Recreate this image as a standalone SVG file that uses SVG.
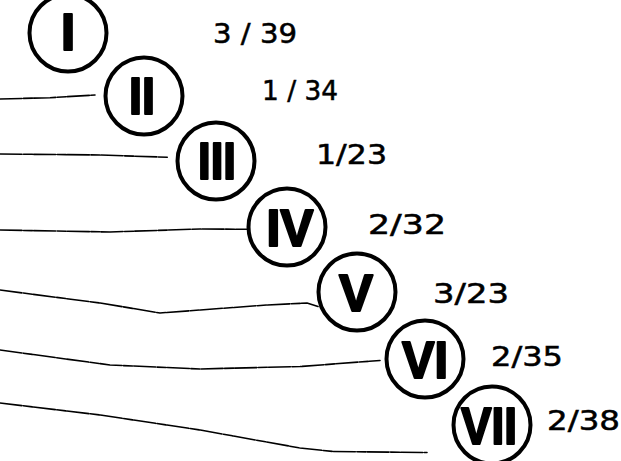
<svg xmlns="http://www.w3.org/2000/svg" width="621" height="461" viewBox="0 0 621 461">
<style>
.ring{fill:none;stroke:#000;stroke-width:4}
.num{font-family:"Liberation Sans",Arial,sans-serif;font-weight:bold;font-size:51px;fill:#000;stroke:#000;stroke-width:2.2;stroke-linejoin:round;text-anchor:middle}
.lbl{font-family:"DejaVu Sans","Liberation Sans",sans-serif;font-size:26px;fill:#000;stroke:#000;stroke-width:0.5}
.wire{fill:none;stroke:#000;stroke-width:1.6;stroke-linecap:round;stroke-linejoin:round;stroke-dasharray:22 1.5 9 1.2}
</style>
<rect width="621" height="461" fill="#fff"/>
<g id="connectors">
<path class="wire" d="M0,99 L50,97.7 L95,95"/>
<path class="wire" d="M0,154 L100,155 L168,157.3"/>
<path class="wire" d="M0,230 L110,232 L200,229 L248,229.3"/>
<path class="wire" d="M0,290 L100,303 L160,313 L213,309 L267,305 L307,303 L318,306.5"/>
<path class="wire" d="M0,350 L110,365 L200,369 L300,366.5 L380,360.5"/>
<path class="wire" d="M0,403 L100,415 L200,430 L300,448 L333,451.5 L427,452.5"/>
</g>
<g id="node-I">
<circle class="ring" cx="68" cy="33" r="38.5"/>
<text class="num" x="68" y="50">I</text>
<text class="lbl" x="213" y="42.5" textLength="84" lengthAdjust="spacingAndGlyphs">3 / 39</text>
</g>
<g id="node-II">
<circle class="ring" cx="144" cy="96" r="38.5"/>
<text class="num" x="142" y="114" textLength="26" lengthAdjust="spacingAndGlyphs">II</text>
<text class="lbl" x="262" y="99.5" textLength="76" lengthAdjust="spacingAndGlyphs">1 / 34</text>
</g>
<g id="node-III">
<circle class="ring" cx="216" cy="161" r="38.5"/>
<text class="num" x="217" y="179" textLength="38" lengthAdjust="spacingAndGlyphs">III</text>
<text class="lbl" x="316" y="163.5" textLength="71" lengthAdjust="spacingAndGlyphs">1/23</text>
</g>
<g id="node-IV">
<circle class="ring" cx="287" cy="227" r="38.5"/>
<text class="num" x="290" y="246" textLength="47" lengthAdjust="spacingAndGlyphs">IV</text>
<text class="lbl" x="368" y="233.5" textLength="78" lengthAdjust="spacingAndGlyphs">2/32</text>
</g>
<g id="node-V">
<circle class="ring" cx="357" cy="292" r="38.5"/>
<text class="num" x="356" y="311">V</text>
<text class="lbl" x="433" y="303" textLength="76" lengthAdjust="spacingAndGlyphs">3/23</text>
</g>
<g id="node-VI">
<circle class="ring" cx="425" cy="359" r="38.5"/>
<text class="num" x="425" y="378" textLength="46" lengthAdjust="spacingAndGlyphs">VI</text>
<text class="lbl" x="491" y="365.5" textLength="72" lengthAdjust="spacingAndGlyphs">2/35</text>
</g>
<g id="node-VII">
<circle class="ring" cx="492" cy="425" r="38.5"/>
<text class="num" x="489" y="444" textLength="56" lengthAdjust="spacingAndGlyphs">VII</text>
<text class="lbl" x="547" y="430" textLength="73" lengthAdjust="spacingAndGlyphs">2/38</text>
</g>
</svg>
